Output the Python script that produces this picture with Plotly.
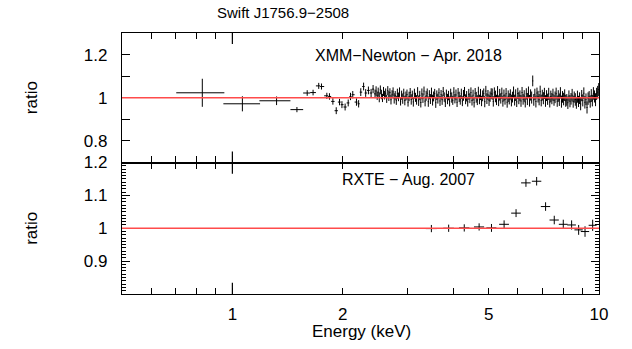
import plotly.graph_objects as go
from plotly.subplots import make_subplots

# ---------------- XMM-Newton (Apr. 2018) ----------------
# wide low-energy bins: centre, lower edge, upper edge, ratio, 1-sigma
XMM_WIDE_E = [0.828, 1.065, 1.32, 1.50]
XMM_WIDE_LO = [0.703, 0.945, 1.185, 1.44]
XMM_WIDE_HI = [0.951, 1.19, 1.44, 1.56]
XMM_WIDE_RATIO = [1.023, 0.972, 0.986, 0.945]
XMM_WIDE_ERR = [0.065, 0.035, 0.020, 0.012]

# 1.6-2.4 keV bins
XMM_MID_E = [1.60, 1.66, 1.72, 1.75, 1.81, 1.84, 1.88, 1.92, 1.96, 1.99,
             2.03, 2.07, 2.10, 2.13, 2.18, 2.21, 2.24, 2.28, 2.31, 2.35,
             2.39, 2.42]
XMM_MID_RATIO = [1.022, 1.024, 1.055, 1.052, 1.009, 1.006, 0.983, 0.940, 0.980, 0.968,
                 0.957, 0.976, 1.006, 1.014, 0.980, 0.972, 1.026, 1.052, 1.022, 1.034,
                 1.022, 1.040]
XMM_MID_ERR = [0.013, 0.013, 0.014, 0.014, 0.014, 0.015, 0.015, 0.016, 0.015, 0.016,
               0.016, 0.016, 0.017, 0.017, 0.017, 0.017, 0.018, 0.018, 0.018, 0.018,
               0.019, 0.019]

# 2.45-10 keV bins
XMM_HI_E = [
    2.450, 2.466, 2.483, 2.499, 2.516, 2.533, 2.550, 2.567, 2.584, 2.601,
    2.619, 2.636, 2.654, 2.672, 2.690, 2.708, 2.726, 2.744, 2.763, 2.781,
    2.800, 2.819, 2.838, 2.857, 2.876, 2.895, 2.915, 2.934, 2.954, 2.974,
    2.994, 3.014, 3.034, 3.055, 3.075, 3.096, 3.116, 3.137, 3.158, 3.180,
    3.201, 3.222, 3.244, 3.266, 3.288, 3.310, 3.332, 3.355, 3.377, 3.400,
    3.423, 3.446, 3.469, 3.492, 3.516, 3.539, 3.563, 3.587, 3.611, 3.635,
    3.660, 3.684, 3.709, 3.734, 3.759, 3.784, 3.810, 3.835, 3.861, 3.887,
    3.913, 3.939, 3.966, 3.992, 4.019, 4.046, 4.073, 4.101, 4.128, 4.156,
    4.184, 4.212, 4.240, 4.269, 4.297, 4.326, 4.355, 4.385, 4.414, 4.444,
    4.474, 4.504, 4.534, 4.564, 4.595, 4.626, 4.657, 4.688, 4.720, 4.751,
    4.783, 4.815, 4.848, 4.880, 4.913, 4.946, 4.979, 5.013, 5.046, 5.080,
    5.114, 5.149, 5.183, 5.218, 5.253, 5.288, 5.324, 5.360, 5.396, 5.432,
    5.468, 5.505, 5.542, 5.579, 5.617, 5.654, 5.692, 5.730, 5.769, 5.808,
    5.847, 5.886, 5.925, 5.965, 6.005, 6.045, 6.086, 6.127, 6.168, 6.209,
    6.251, 6.293, 6.335, 6.378, 6.421, 6.464, 6.507, 6.551, 6.595, 6.639,
    6.684, 6.728, 6.774, 6.819, 6.865, 6.911, 6.957, 7.004, 7.051, 7.098,
    7.146, 7.194, 7.242, 7.291, 7.340, 7.389, 7.439, 7.489, 7.539, 7.590,
    7.640, 7.692, 7.743, 7.795, 7.848, 7.900, 7.953, 8.007, 8.060, 8.114,
    8.169, 8.224, 8.279, 8.334, 8.390, 8.447, 8.503, 8.560, 8.618, 8.676,
    8.734, 8.792, 8.851, 8.911, 8.971, 9.031, 9.091, 9.152, 9.214, 9.276,
    9.338, 9.400, 9.463, 9.527, 9.591, 9.655, 9.720, 9.785, 9.851, 9.917,
    9.983,
]
XMM_HI_RATIO = [
    1.018, 1.031, 1.009, 1.026, 1.002, 1.037, 1.015, 0.999, 1.029, 1.012,
    1.021, 0.995, 1.033, 1.008, 1.024, 0.991, 1.016, 1.027, 0.997, 1.011,
    0.988, 1.019, 1.004, 1.026, 0.983, 1.012, 0.996, 1.022, 0.987, 1.008,
    1.015, 0.979, 1.006, 1.024, 0.992, 1.013, 0.981, 1.019, 1.002, 0.990,
    1.027, 0.986, 1.011, 0.978, 1.018, 0.998, 1.031, 0.984, 1.009, 1.021,
    0.982, 1.014, 0.994, 1.025, 0.989, 1.006, 1.019, 0.977, 1.012, 0.996,
    1.023, 0.985, 1.014, 0.991, 1.029, 1.003, 0.980, 1.017, 0.994, 1.010,
    0.983, 1.020, 1.001, 0.988, 1.026, 0.996, 1.013, 0.979, 1.022, 1.004,
    0.990, 1.018, 0.984, 1.011, 1.028, 0.993, 1.007, 0.981, 1.016, 0.998,
    1.024, 0.987, 1.012, 0.977, 1.021, 1.002, 0.989, 1.027, 0.992, 1.015,
    0.985, 1.009, 1.020, 0.982, 1.031, 0.996, 1.013, 0.988, 1.005, 1.019,
    1.017, 0.983, 1.023, 1.006, 0.990, 1.028, 0.986, 1.014, 0.997, 1.021,
    0.984, 1.011, 0.992, 1.019, 0.979, 1.007, 0.995, 1.015, 0.987, 1.003,
    1.026, 0.989, 1.012, 0.981, 1.020, 0.998, 1.009, 0.985, 1.024, 0.993,
    1.008, 0.980, 1.018, 0.994, 1.027, 0.986, 1.013, 1.001, 1.078, 0.990,
    1.016, 0.983, 1.022, 1.005, 0.991, 1.028, 0.987, 1.012, 0.998, 1.020,
    0.985, 1.010, 0.993, 1.018, 0.980, 1.006, 0.996, 1.014, 0.988, 1.002,
    1.019, 0.984, 1.008, 0.991, 1.023, 0.982, 1.004, 0.994, 1.012, 0.986,
    0.990, 0.977, 1.008, 0.984, 0.995, 1.012, 0.982, 1.003, 0.992, 0.976,
    1.005, 0.983, 0.998, 0.971, 1.010, 0.988, 1.021, 0.979, 0.993, 0.955,
    0.996, 1.004, 0.982, 1.010, 0.987, 1.020, 1.006, 0.991, 1.018, 1.026,
    1.038,
]
XMM_HI_ERR = [
    0.020, 0.022, 0.019, 0.021, 0.023, 0.020, 0.022, 0.019, 0.021, 0.020,
    0.022, 0.019, 0.021, 0.023, 0.020, 0.022, 0.019, 0.021, 0.024, 0.020,
    0.021, 0.023, 0.020, 0.022, 0.019, 0.021, 0.024, 0.020, 0.022, 0.021,
    0.023, 0.020, 0.022, 0.021, 0.024, 0.020, 0.022, 0.023, 0.021, 0.022,
    0.022, 0.024, 0.021, 0.023, 0.025, 0.022, 0.021, 0.024, 0.023, 0.022,
    0.024, 0.021, 0.023, 0.022, 0.025, 0.023, 0.022, 0.024, 0.022, 0.023,
    0.021, 0.023, 0.022, 0.024, 0.021, 0.022, 0.023, 0.021, 0.024, 0.022,
    0.023, 0.022, 0.024, 0.021, 0.023, 0.022, 0.025, 0.022, 0.023, 0.024,
    0.022, 0.024, 0.023, 0.025, 0.022, 0.023, 0.024, 0.022, 0.025, 0.023,
    0.024, 0.023, 0.025, 0.022, 0.024, 0.025, 0.023, 0.024, 0.022, 0.026,
    0.024, 0.025, 0.023, 0.026, 0.024, 0.025, 0.023, 0.026, 0.024, 0.025,
    0.026, 0.024, 0.025, 0.027, 0.024, 0.026, 0.025, 0.027, 0.024, 0.026,
    0.025, 0.027, 0.024, 0.026, 0.025, 0.027, 0.026, 0.024, 0.027, 0.025,
    0.026, 0.025, 0.027, 0.024, 0.026, 0.028, 0.025, 0.027, 0.026, 0.025,
    0.027, 0.025, 0.026, 0.028, 0.025, 0.027, 0.026, 0.028, 0.025, 0.027,
    0.026, 0.028, 0.025, 0.027, 0.026, 0.028, 0.027, 0.025, 0.028, 0.026,
    0.027, 0.025, 0.026, 0.028, 0.025, 0.027, 0.026, 0.028, 0.025, 0.027,
    0.028, 0.026, 0.027, 0.029, 0.026, 0.028, 0.027, 0.029, 0.027, 0.028,
    0.027, 0.029, 0.026, 0.028, 0.027, 0.029, 0.028, 0.026, 0.029, 0.027,
    0.028, 0.026, 0.027, 0.029, 0.026, 0.028, 0.027, 0.029, 0.027, 0.028,
    0.029, 0.027, 0.028, 0.030, 0.027, 0.029, 0.028, 0.030, 0.028, 0.029,
    0.030,
]

# ---------------- RXTE (Aug. 2007) ----------------
RXTE_E = [3.49, 3.89, 4.29, 4.71, 5.09, 5.51, 5.94, 6.32, 6.76, 7.15,
          7.55, 7.99, 8.42, 8.80, 9.16, 9.61]
RXTE_HALFWIDTH = [0.12, 0.13, 0.14, 0.15, 0.16, 0.17, 0.18, 0.19, 0.20, 0.21,
                  0.22, 0.22, 0.23, 0.23, 0.24, 0.24]
RXTE_RATIO = [0.999, 1.000, 1.001, 1.004, 1.001, 1.012, 1.046, 1.138, 1.143, 1.066,
              1.025, 1.012, 1.010, 0.995, 0.990, 1.009]
RXTE_ERR = [0.011, 0.011, 0.011, 0.011, 0.012, 0.012, 0.012, 0.012, 0.013, 0.013,
            0.013, 0.014, 0.014, 0.015, 0.016, 0.017]

TITLE = "Swift J1756.9\u22122508"
LABEL_TOP = "XMM\u2212Newton \u2212 Apr. 2018"
LABEL_BOTTOM = "RXTE \u2212 Aug. 2007"
X_TICKS = [1, 2, 5, 10]
X_MINOR = [0.6, 0.7, 0.8, 0.9, 3, 4, 6, 7, 8, 9]

FONT = "Liberation Sans, Arial, Helvetica, sans-serif"
INK = "black"
MODEL = "rgb(255,75,75)"
LW = 1.2

# bin edges for the narrow XMM bins: midway between neighbouring centres
narrow_e = XMM_MID_E + XMM_HI_E
narrow_r = XMM_MID_RATIO + XMM_HI_RATIO
narrow_s = XMM_MID_ERR + XMM_HI_ERR
edges = [XMM_WIDE_HI[-1]]
for a, b in zip(narrow_e[:-1], narrow_e[1:]):
    edges.append(0.5 * (a + b))
edges.append(10.0)
narrow_plus = [edges[i + 1] - e for i, e in enumerate(narrow_e)]
narrow_minus = [e - edges[i] for i, e in enumerate(narrow_e)]

fig = make_subplots(rows=2, cols=1, shared_xaxes=True, vertical_spacing=0,
                    row_heights=[129.5, 131.5])


def cross(x, y, ex_p, ex_m, ey, row):
    fig.add_trace(go.Scatter(
        x=x, y=y, mode="markers",
        marker=dict(size=0.1, color=INK),
        error_x=dict(type="data", symmetric=False, array=ex_p, arrayminus=ex_m,
                     color=INK, thickness=1, width=0),
        error_y=dict(type="data", array=ey, color=INK, thickness=1, width=0),
        showlegend=False, hoverinfo="skip"), row=row, col=1)


cross(XMM_WIDE_E, XMM_WIDE_RATIO,
      [h - e for h, e in zip(XMM_WIDE_HI, XMM_WIDE_E)],
      [e - l for l, e in zip(XMM_WIDE_LO, XMM_WIDE_E)],
      XMM_WIDE_ERR, 1)
cross(narrow_e, narrow_r, narrow_plus, narrow_minus, narrow_s, 1)
cross(RXTE_E, RXTE_RATIO, RXTE_HALFWIDTH, RXTE_HALFWIDTH, RXTE_ERR, 2)

# unit-ratio model line in each panel
for yref in ("y", "y2"):
    fig.add_shape(type="line", xref="x domain", yref=yref, x0=0, x1=1, y0=1, y1=1,
                  line=dict(color=MODEL, width=1.5))

# longer decade ticks at 1 keV
for yref in ("y domain", "y2 domain"):
    fig.add_shape(type="line", xref="x", yref=yref, x0=1, x1=1, y0=0, y1=0.085,
                  line=dict(color=INK, width=LW))
    fig.add_shape(type="line", xref="x", yref=yref, x0=1, x1=1, y0=0.915, y1=1,
                  line=dict(color=INK, width=LW))

xcommon = dict(type="log", range=[-0.30103, 1], showgrid=False, zeroline=False,
               showline=True, linecolor=INK, linewidth=LW, mirror="allticks",
               ticks="inside", ticklen=6, tickcolor=INK, tickwidth=LW,
               tickvals=X_TICKS, ticktext=[str(v) for v in X_TICKS],
               minor=dict(tickvals=X_MINOR, ticks="inside", ticklen=6,
                          tickcolor=INK, tickwidth=LW, showgrid=False),
               tickfont=dict(family=FONT, size=17, color=INK))
fig.update_xaxes(**xcommon)
fig.update_xaxes(showticklabels=False, row=1, col=1)
fig.update_xaxes(ticklabelstandoff=4, row=2, col=1)

ycommon = dict(showgrid=False, zeroline=False, showline=True, linecolor=INK,
               linewidth=LW, mirror="allticks", ticks="inside", ticklen=8,
               tickcolor=INK, tickwidth=LW, ticklabelstandoff=10,
               tickfont=dict(family=FONT, size=17, color=INK))
fig.update_yaxes(**ycommon)
fig.update_yaxes(range=[0.7, 1.3], tickvals=[0.8, 0.9, 1.0, 1.1, 1.2],
                 ticktext=["0.8", "", "1", "", "1.2"], row=1, col=1)
fig.update_yaxes(range=[0.8, 1.2], tickvals=[0.9, 1.0, 1.1, 1.2],
                 ticktext=["0.9", "1", "1.1", "1.2"],
                 minor=dict(dtick=0.01, ticks="inside", ticklen=4, tickcolor=INK,
                            tickwidth=1, showgrid=False),
                 row=2, col=1)

ann_font = dict(family=FONT, size=16, color=INK)
fig.add_annotation(text=TITLE, xref="paper", yref="paper", x=0.3375, y=1.077,
                   showarrow=False, xanchor="center", yanchor="middle",
                   font=dict(family=FONT, size=15, color=INK))
fig.add_annotation(text=LABEL_TOP, xref="paper", yref="paper", x=0.5996, y=0.912,
                   showarrow=False, xanchor="center", yanchor="middle", font=ann_font)
fig.add_annotation(text=LABEL_BOTTOM, xref="paper", yref="paper", x=0.5996, y=0.437,
                   showarrow=False, xanchor="center", yanchor="middle", font=ann_font)
fig.add_annotation(text="Energy (keV)", xref="paper", yref="paper", x=0.503, y=-0.142,
                   showarrow=False, xanchor="center", yanchor="middle",
                   font=dict(family=FONT, size=17, color=INK))
for yc in (0.7534, 0.2529):
    fig.add_annotation(text="ratio", xref="paper", yref="paper", x=-0.189, y=yc,
                       showarrow=False, textangle=-90, xanchor="center",
                       yanchor="middle", font=dict(family=FONT, size=17, color=INK))

fig.update_layout(width=632, height=349, margin=dict(l=122, r=33, t=33, b=55),
                  paper_bgcolor="white", plot_bgcolor="white",
                  font=dict(family=FONT, color=INK))

fig.write_html("out.html")
